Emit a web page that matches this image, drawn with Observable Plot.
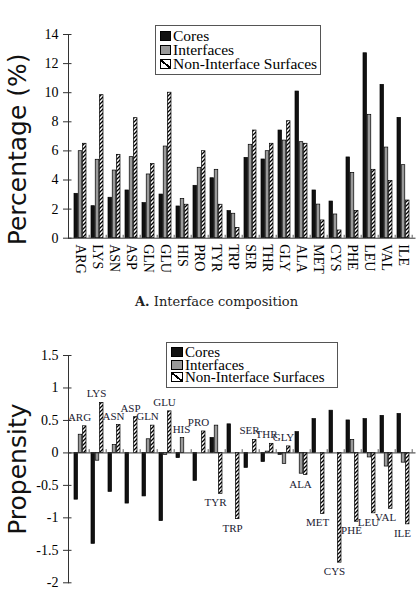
<!DOCTYPE html>
<html>
<head>
<meta charset="utf-8">
<script src="https://cdn.jsdelivr.net/npm/d3@7"></script>
<script src="https://cdn.jsdelivr.net/npm/@observablehq/plot@0.6"></script>
<style>
  html, body { margin: 0; padding: 0; background: #fff; }
  #wrap { position: relative; width: 417px; height: 603px; overflow: hidden; }
  #wrap > svg, #wrap > .plotA, #wrap > .plotB { position: absolute; left: 0; }
  .legend { position: absolute; box-sizing: border-box; border: 1px solid #555; background: #fff;
            font-family: "Liberation Serif", serif; color: #000; }
  .legend .row { display: flex; align-items: center; white-space: nowrap; }
  .legend .sw { box-sizing: border-box; border: 1px solid #000; flex: none; }
  .caption { position: absolute; font-family: "DejaVu Serif", serif; font-size: 13px; color: #222; white-space: nowrap; }
</style>
</head>
<body>
<div id="wrap">
  <svg width="0" height="0" style="position:absolute">
    <defs>
      <pattern id="hatch" patternUnits="userSpaceOnUse" width="4" height="4">
        <rect width="4" height="4" fill="#fff"></rect>
        <path d="M-1,1 l2,-2 M0,4 l4,-4 M3,5 l2,-2" stroke="#000" stroke-width="1.3"></path>
      </pattern>
    </defs>
  </svg>
</div>
<script>
// ---------- data ----------
const aminoAcids = ["ARG","LYS","ASN","ASP","GLN","GLU","HIS","PRO","TYR","TRP","SER","THR","GLY","ALA","MET","CYS","PHE","LEU","VAL","ILE"];
const seriesNames = ["Cores", "Interfaces", "Non-Interface Surfaces"];

// Panel A: percentage (%)
const coresPct        = [3.05, 2.20, 2.78, 3.28, 2.41, 3.00, 2.18, 3.60, 4.12, 1.86, 5.52, 5.41, 7.40, 10.08, 3.28, 2.52, 5.55, 12.71, 10.54, 8.27];
const interfacesPct   = [5.98, 5.39, 4.65, 5.57, 4.38, 6.30, 2.70, 4.84, 4.70, 1.68, 6.42, 5.98, 6.71, 6.60, 2.31, 1.63, 4.49, 8.48, 6.23, 5.02];
const nonInterfacePct = [6.49, 9.83, 5.73, 8.25, 5.09, 10.00, 2.30, 5.98, 2.30, 0.71, 7.40, 6.49, 8.04, 6.49, 1.22, 0.53, 1.88, 4.70, 3.94, 2.59];

// Panel B: propensity
const coresProp        = [-0.72, -1.40, -0.60, -0.78, -0.67, -1.05, -0.08, -0.43, 0.23, 0.44, -0.23, -0.14, -0.03, 0.32, 0.52, 0.65, 0.50, 0.52, 0.57, 0.60];
const interfacesProp   = [0.28, -0.12, 0.12, 0.00, 0.21, -0.03, 0.23, 0.00, 0.42, 0.00, 0.00, 0.02, -0.17, -0.32, 0.00, 0.00, 0.20, -0.07, -0.21, -0.15];
const nonInterfaceProp = [0.41, 0.77, 0.43, 0.55, 0.42, 0.64, 0.00, 0.33, -0.63, -1.02, 0.20, 0.14, 0.10, -0.34, -0.94, -1.69, -1.06, -0.93, -0.86, -1.10];

const yTicksA = [0, 2, 4, 6, 8, 10, 12, 14];
const yTicksB = [-2, -1.5, -1, -0.5, 0, 0.5, 1, 1.5];
const titleA = "Percentage (%)";
const titleB = "Propensity";
const captionBold = "A.";
const captionText = "Interface composition";

// ---------- layout / style ----------
const W = 417, mL = 68, mR = 1.5;
const frameW = W - mL - mR;
const padIn = 0.27, padOut = 0.12;
const step = frameW / (aminoAcids.length - padIn + 2 * padOut);
const bw = step * (1 - padIn);
const sub = bw / 3;
const serif = "Liberation Serif";
const colors = {core: "#111", iface: "#9a9a9a", non: "url(#hatch)"};

const rowsA = aminoAcids.map((aa, i) => ({aa, core: coresPct[i], iface: interfacesPct[i], non: nonInterfacePct[i]}));
const rowsB = aminoAcids.map((aa, i) => ({aa, core: coresProp[i], iface: interfacesProp[i], non: nonInterfaceProp[i]}));

function barMarks(rows) {
  const common = {x: "aa", stroke: "#000", strokeWidth: 0.7};
  return [
    Plot.barY(rows, {...common, y: "core", fill: colors.core, insetRight: 2 * sub}),
    Plot.barY(rows, {...common, y: "iface", fill: colors.iface, insetLeft: sub, insetRight: sub}),
    Plot.barY(rows, {...common, y: "non", fill: colors.non, insetLeft: 2 * sub})
  ];
}

function axisMarks(ticks, fmt, minorLen) {
  return [
    Plot.ruleY([0], {stroke: "#333", strokeWidth: 1}),
    Plot.frame({anchor: "left", stroke: "#333", strokeWidth: 1}),
    Plot.ruleY(ticks, {y: d => d, insetLeft: -5, insetRight: frameW - 3.5, stroke: "#333", strokeWidth: 1}),
    Plot.axisY({ticks, tickSize: 0, tickPadding: 10, tickFormat: fmt, fontSize: 14, fontFamily: serif, label: null}),
    Plot.ruleX(aminoAcids, {x: d => d, y1: 0, y2: minorLen, dx: step / 2, stroke: "#333", strokeWidth: 0.8})
  ];
}

// ---------- Panel A ----------
const plotA = Plot.plot({
  width: W, height: 290,
  marginTop: 34, marginBottom: 52.3, marginLeft: mL, marginRight: mR,
  style: {fontFamily: serif, color: "#000", background: "transparent", overflow: "visible"},
  x: {domain: aminoAcids, paddingInner: padIn, paddingOuter: padOut},
  y: {domain: [0, 14]},
  marks: [
    ...barMarks(rowsA),
    ...axisMarks(yTicksA, d => String(d), 0.2),
    Plot.axisX({tickSize: 0, tickPadding: 6, tickRotate: 90, fontSize: 14, fontFamily: serif, label: null}),
    Plot.text([titleA], {frameAnchor: "left", textAnchor: "middle", rotate: -90, dx: -51, dy: 13, fontSize: 25, fontFamily: "DejaVu Sans", fill: "#111"})
  ]
});
plotA.classList.add("plotA");
plotA.style.top = "0px";

// ---------- Panel B ----------
const labelY = d => d.non >= 0 ? Math.max(d.iface, d.non) : d.non;
const plotB = Plot.plot({
  width: W, height: 303,
  marginTop: 55, marginBottom: 20.7, marginLeft: mL, marginRight: mR,
  style: {fontFamily: serif, color: "#000", background: "transparent", overflow: "visible"},
  x: {domain: aminoAcids, paddingInner: padIn, paddingOuter: padOut, axis: null},
  y: {domain: [-2, 1.5]},
  marks: [
    ...barMarks(rowsB),
    ...axisMarks(yTicksB, d => String(d), 0.05),
    Plot.text(rowsB.filter(d => d.non >= 0), {x: "aa", y: labelY, text: "aa", dy: -9, dx: -1, fontSize: 11, fontFamily: serif, fill: "#223"}),
    Plot.text(rowsB.filter(d => d.non < 0), {x: "aa", y: labelY, text: "aa", dy: 9, dx: -1, fontSize: 11, fontFamily: serif, fill: "#223"}),
    Plot.text([titleB], {frameAnchor: "left", textAnchor: "middle", rotate: -90, dx: -51, dy: 0, fontSize: 25, fontFamily: "DejaVu Sans", fill: "#111"})
  ]
});
plotB.classList.add("plotB");
plotB.style.top = "300px";

const wrap = document.getElementById("wrap");
wrap.appendChild(plotA);
wrap.appendChild(plotB);

// ---------- legends ----------
function legend(left, top, width, height, rowH, fontSize, swW, swH) {
  const div = document.createElement("div");
  div.className = "legend";
  Object.assign(div.style, {left: left + "px", top: top + "px", width: width + "px", height: height + "px",
    padding: "3px 0 0 4px", fontSize: fontSize + "px", lineHeight: rowH + "px"});
  const fills = [colors.core, colors.iface, "linear-gradient(to top right, #fff 42%, #000 42%, #000 58%, #fff 58%)"];
  seriesNames.forEach((name, i) => {
    const row = document.createElement("div");
    row.className = "row";
    row.style.height = rowH + "px";
    const sw = document.createElement("span");
    sw.className = "sw";
    Object.assign(sw.style, {width: swW + "px", height: swH + "px", background: fills[i], marginRight: "2px"});
    const t = document.createElement("span");
    t.textContent = name;
    row.appendChild(sw);
    row.appendChild(t);
    div.appendChild(row);
  });
  wrap.appendChild(div);
}
legend(155, 25, 166, 50, 14, 15.5, 11, 10);
legend(166, 342, 172, 46, 12.5, 15, 12, 10);

// ---------- caption ----------
const cap = document.createElement("div");
cap.className = "caption";
Object.assign(cap.style, {left: "135px", top: "294px"});
const b = document.createElement("b");
b.textContent = captionBold;
cap.appendChild(b);
cap.appendChild(document.createTextNode(" " + captionText));
wrap.appendChild(cap);
</script>
</body>
</html>
